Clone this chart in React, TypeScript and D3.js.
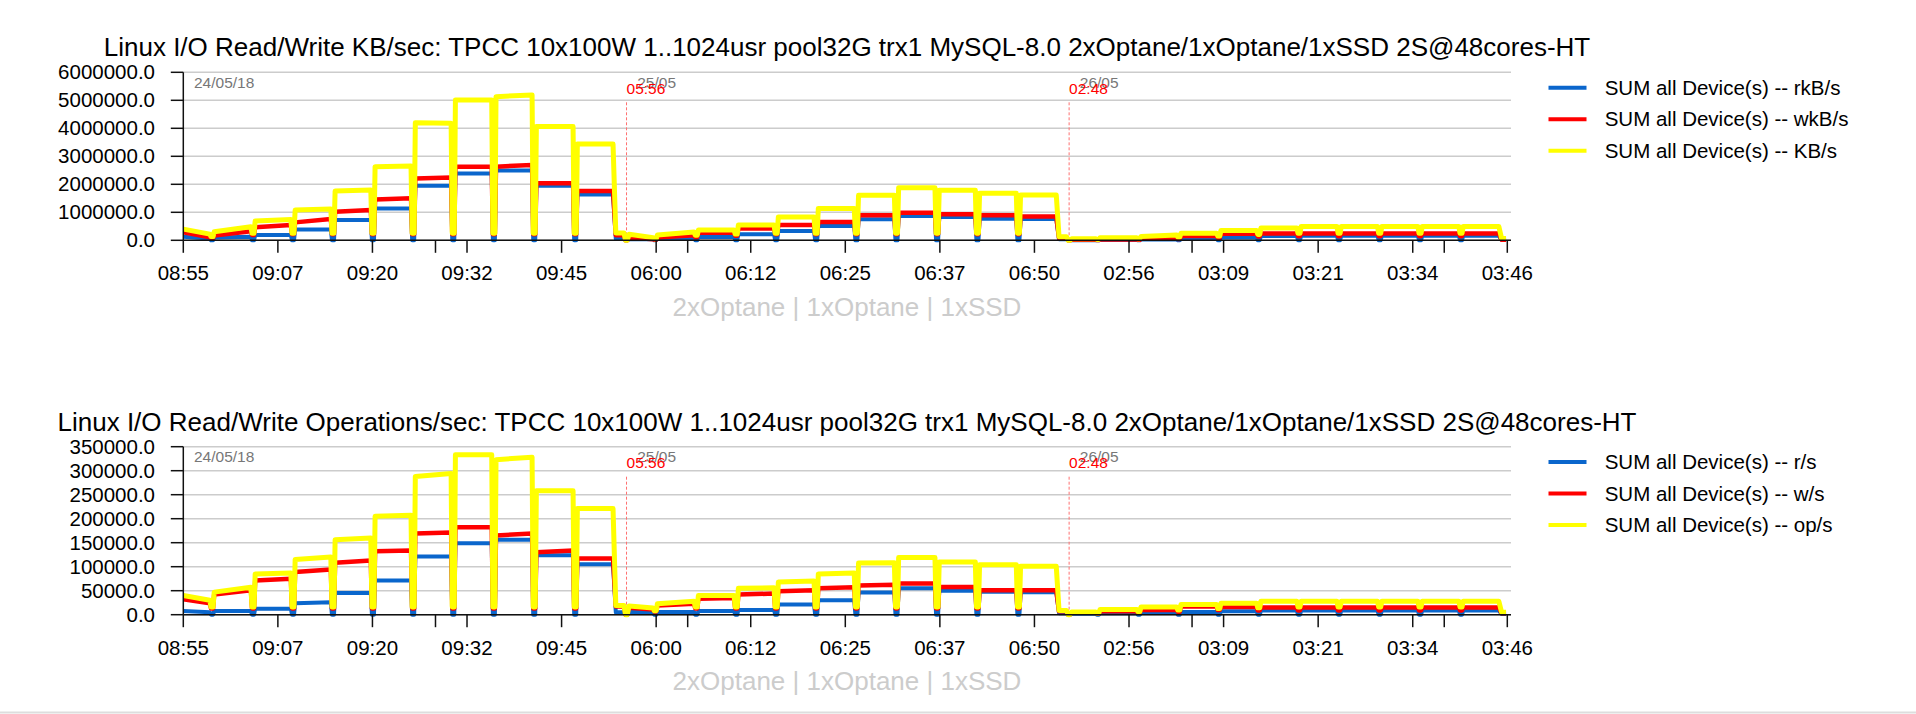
"use client"

import { useEffect, useRef } from 'react'
import * as d3 from 'd3'

type Level = number | [number, number]

// x axis is a sample index across the three concatenated runs
const xTickLabels = ["08:55", "09:07", "09:20", "09:32", "09:45", "06:00", "06:12", "06:25", "06:37", "06:50", "02:56", "03:09", "03:21", "03:34", "03:46"]
const xTickStep = 75
const xMinorTicks = [200, 400, 800, 1000]
const xMax = 1050

// each run: 11 user levels (1..1024), edges relative to run start
const runStarts = [0, 351.5, 702.5]
const runEnds = [351.5, 702.5, 1051]
const stepEdges = [0, 22.5, 55, 86.7, 118.4, 150.1, 182, 213.8, 246, 278, 310.5, 342.2]

const dayMarks = [
  { idx: 0, day: "24/05/18", time: "" },
  { idx: 351.5, day: "25/05", time: "05:56" },
  { idx: 702.5, day: "26/05", time: "02:48" },
]

const subtitle = "2xOptane | 1xOptane | 1xSSD"

// KB/sec chart (33 levels = 3 runs x 11 steps, [start, end] where it drifts)
const kbRead: Level[] = [
  [129000, 60000], [100000, 130000], 190000, 390000, 725000, 1140000, 1950000, 2390000, 2490000, 1950000, 1640000,
  36000, 70000, 119000, 214000, 333000, 512000, 750000, 869000, 833000, 774000, 757000,
  5000, 15000, 30000, 55000, 100000, 150000, 160000, 160000, 160000, 160000, 160000,
]
const kbWrite: Level[] = [
  [290000, 110000], [170000, 320000], [464000, 546000], [640000, 760000], [1020000, 1080000], [1460000, 1500000], [2210000, 2240000], 2630000, [2630000, 2690000], 2040000, 1760000,
  [96000, 36000], [96000, 179000], 274000, 417000, 548000, 655000, 893000, 988000, 930000, 893000, 850000,
  18000, 30000, 70000, 150000, 230000, 245000, 245000, 245000, 245000, 245000, 245000,
]
const kbTotal: Level[] = [
  [400000, 220000], [307000, 486000], [690000, 740000], [1080000, 1120000], [1760000, 1800000], [2630000, 2650000], [4200000, 4180000], 5010000, [5130000, 5190000], 4060000, 3440000,
  [214000, 96000], [190000, 297000], 368000, 548000, 833000, 1140000, 1610000, 1880000, 1790000, 1680000, 1620000,
  54000, 90000, [140000, 190000], 255000, 350000, 435000, 493000, 493000, 493000, 493000, 493000,
]
const kbReadTails = [50000, 40000, 10000]
const kbWriteTails = [180000, 80000, 20000]
const kbTotalTails = [260000, 130000, 60000]

// Operations/sec chart
const opsRead: Level[] = [
  [7500, 5000], 7500, 12500, [24000, 26000], 45000, 71000, 121000, 149000, 156000, 124000, 105000,
  5400, 5400, 7600, 10000, 21000, 30000, 46000, 55000, 50000, 48000, 47000,
  2000, 3000, 4000, 5500, 7000, 8500, 8500, 8500, 8500, 8500, 8500,
]
const opsWrite: Level[] = [
  [32000, 24000], [42000, 51000], [71000, 75000], [89000, 94000], [108000, 113000], [132000, 134000], [169000, 171000], 182000, [165000, 169000], [130000, 134000], 117000,
  [14600, 11000], [19000, 23000], [33000, 35000], [42000, 44000], [49000, 51000], [55000, 57000], [61000, 62500], 65000, 57500, 51000, 51000,
  4000, 7000, 10000, 17000, 16000, 15000, 15000, 15000, 15000, 15000, 15000,
]
const opsTotal: Level[] = [
  [40000, 30000], [47000, 57000], [85000, 87000], [115000, 120000], [156000, 160000], [205000, 207000], [288000, 294000], 333000, [323000, 328000], 258000, 221000,
  [18000, 14000], [23000, 28000], 40000, [55000, 56000], [68000, 70000], [85000, 87000], [107500, 108000], 119000, 110000, 104000, 101000,
  5500, 11000, 16000, 21500, 24000, 28000, 28000, 28000, 28000, 28000, 28000,
]
const opsReadTails = [5000, 3000, 1500]
const opsWriteTails = [17000, 7000, 3000]
const opsTotalTails = [19000, 9000, 5000]

const BLUE = "#0a66cc"
const RED = "#ff0000"
const YELLOW = "#ffff00"
const FONT = "'Liberation Sans', Arial, Helvetica, sans-serif"

interface SeriesDef {
  label: string
  color: string
  levels: Level[]
  tails: number[]
  dip: number
  width: number
}

interface ChartDef {
  title: string
  top: number
  yMax: number
  yStep: number
  series: SeriesDef[]
}

const charts: ChartDef[] = [
  {
    title: "Linux I/O Read/Write KB/sec: TPCC 10x100W 1..1024usr pool32G trx1 MySQL-8.0 2xOptane/1xOptane/1xSSD 2S@48cores-HT",
    top: 72.3,
    yMax: 6000000,
    yStep: 1000000,
    series: [
      { label: "SUM all Device(s) -- rkB/s", color: BLUE, levels: kbRead, tails: kbReadTails, dip: 0, width: 4 },
      { label: "SUM all Device(s) -- wkB/s", color: RED, levels: kbWrite, tails: kbWriteTails, dip: 220000, width: 4.5 },
      { label: "SUM all Device(s) -- KB/s", color: YELLOW, levels: kbTotal, tails: kbTotalTails, dip: 250000, width: 5 },
    ],
  },
  {
    title: "Linux I/O Read/Write Operations/sec: TPCC 10x100W 1..1024usr pool32G trx1 MySQL-8.0 2xOptane/1xOptane/1xSSD 2S@48cores-HT",
    top: 446.7,
    yMax: 350000,
    yStep: 50000,
    series: [
      { label: "SUM all Device(s) -- r/s", color: BLUE, levels: opsRead, tails: opsReadTails, dip: 0, width: 4 },
      { label: "SUM all Device(s) -- w/s", color: RED, levels: opsWrite, tails: opsWriteTails, dip: 13000, width: 4.5 },
      { label: "SUM all Device(s) -- op/s", color: YELLOW, levels: opsTotal, tails: opsTotalTails, dip: 16000, width: 5 },
    ],
  },
]

// turn step levels into a line: flat steps with a short dip between user levels
function buildPoints(levels: Level[], tails: number[], dip: number): [number, number][] {
  const pts: [number, number][] = []
  runStarts.forEach((r0, ri) => {
    const lv = levels.slice(ri * 11, ri * 11 + 11).map(l => (Array.isArray(l) ? l : [l, l]))
    if (ri > 0) {
      pts.push([r0 - 0.8, 0], [r0 + 0.6, 0])
    }
    lv.forEach(([s, e], k) => {
      const a = r0 + stepEdges[k]
      const b = r0 + stepEdges[k + 1]
      pts.push([k === 0 && ri === 0 ? a : a + 2, s], [b - 1.4, e])
      if (k < lv.length - 1) {
        const d = Math.min(dip, e * 0.6, lv[k + 1][0] * 0.6)
        pts.push([b - 0.5, d], [b + 1.1, d])
      }
    })
    const end = r0 + stepEdges[stepEdges.length - 1]
    pts.push([end + 0.8, tails[ri]], [runEnds[ri] - 2, tails[ri]])
  })
  return pts
}

export default function App() {
  const svgRef = useRef<SVGSVGElement>(null)

  useEffect(() => {
    if (!svgRef.current) return
    document.body.style.margin = "0"
    document.body.style.overflow = "hidden"

    const width = 1916
    const height = 714
    const plotHeight = 168
    const left = 183.3
    const right = 1507.3
    const gridRight = 1511
    const centerX = 847

    const root = d3.select(svgRef.current)
    root.selectAll("*").remove()
    root.attr("width", width).attr("height", height)
      .style("font-family", FONT)

    const x = d3.scaleLinear().domain([0, xMax]).range([left, right])

    charts.forEach(chart => {
      const top = chart.top
      const bottom = top + plotHeight
      const y = d3.scaleLinear().domain([0, chart.yMax]).range([bottom, top])
      const g = root.append("g")

      // Title
      g.append("text")
        .attr("x", centerX)
        .attr("y", top - 25.3)
        .attr("dy", "0.35em")
        .attr("text-anchor", "middle")
        .attr("font-size", 26)
        .attr("fill", "#000")
        .text(chart.title)

      // Grid lines
      const yTicks = d3.range(0, chart.yMax + chart.yStep / 2, chart.yStep)
      g.selectAll("line.grid")
        .data(yTicks)
        .join("line")
        .attr("class", "grid")
        .attr("x1", left)
        .attr("x2", gridRight)
        .attr("y1", d => y(d))
        .attr("y2", d => y(d))
        .attr("stroke", "#cccccc")
        .attr("stroke-width", 1.5)

      // Run boundaries
      dayMarks.filter(m => m.time).forEach(m => {
        g.append("line")
          .attr("x1", x(m.idx))
          .attr("x2", x(m.idx))
          .attr("y1", top + 30)
          .attr("y2", bottom)
          .attr("stroke", "#ff7070")
          .attr("stroke-width", 1)
          .attr("stroke-dasharray", "3,2")
      })

      dayMarks.forEach(m => {
        g.append("text")
          .attr("x", x(m.idx) + 10.7)
          .attr("y", top + 9.8)
          .attr("dy", "0.35em")
          .attr("font-size", 15.5)
          .attr("fill", "#777")
          .text(m.day)
        if (m.time) {
          g.append("text")
            .attr("x", x(m.idx))
            .attr("y", top + 16)
            .attr("dy", "0.35em")
            .attr("font-size", 15.5)
            .attr("fill", "#ff0000")
            .text(m.time)
        }
      })

      // Series lines
      const line = d3.line<[number, number]>()
        .x(d => x(d[0]))
        .y(d => y(d[1]))

      chart.series.forEach(s => {
        g.append("path")
          .datum(buildPoints(s.levels, s.tails, s.dip))
          .attr("fill", "none")
          .attr("stroke", s.color)
          .attr("stroke-width", s.width)
          .attr("stroke-linejoin", "round")
          .attr("d", line)
      })

      // Axes
      g.append("line")
        .attr("x1", left).attr("x2", left)
        .attr("y1", top).attr("y2", bottom)
        .attr("stroke", "#111").attr("stroke-width", 1.5)
      g.append("line")
        .attr("x1", left).attr("x2", gridRight)
        .attr("y1", bottom).attr("y2", bottom)
        .attr("stroke", "#111").attr("stroke-width", 1.5)

      g.selectAll("line.ytick")
        .data(yTicks)
        .join("line")
        .attr("class", "ytick")
        .attr("x1", left - 12.5)
        .attr("x2", left)
        .attr("y1", d => y(d))
        .attr("y2", d => y(d))
        .attr("stroke", "#111")
        .attr("stroke-width", 1.5)

      const fmt = d3.format(".1f")
      g.selectAll("text.ylabel")
        .data(yTicks)
        .join("text")
        .attr("class", "ylabel")
        .attr("x", 155)
        .attr("y", d => y(d))
        .attr("dy", "0.35em")
        .attr("text-anchor", "end")
        .attr("font-size", 20.5)
        .attr("fill", "#000")
        .text(d => fmt(d))

      const xTicks = xTickLabels.map((label, i) => ({ idx: i * xTickStep, label }))
      g.selectAll("line.xtick")
        .data([...xTicks.map(t => t.idx), ...xMinorTicks])
        .join("line")
        .attr("class", "xtick")
        .attr("x1", d => x(d))
        .attr("x2", d => x(d))
        .attr("y1", bottom)
        .attr("y2", bottom + 12.5)
        .attr("stroke", "#111")
        .attr("stroke-width", 1.5)

      g.selectAll("text.xlabel")
        .data(xTicks)
        .join("text")
        .attr("class", "xlabel")
        .attr("x", d => x(d.idx))
        .attr("y", bottom + 33)
        .attr("dy", "0.35em")
        .attr("text-anchor", "middle")
        .attr("font-size", 20.5)
        .attr("fill", "#000")
        .text(d => d.label)

      // Subtitle
      g.append("text")
        .attr("x", centerX)
        .attr("y", bottom + 66.5)
        .attr("dy", "0.35em")
        .attr("text-anchor", "middle")
        .attr("font-size", 26)
        .attr("fill", "#cccccc")
        .text(subtitle)

      // Legend
      chart.series.forEach((s, i) => {
        const ly = top + 15.4 + i * 31.5
        g.append("line")
          .attr("x1", 1548.5).attr("x2", 1586.5)
          .attr("y1", ly).attr("y2", ly)
          .attr("stroke", s.color)
          .attr("stroke-width", 4)
        g.append("text")
          .attr("x", 1604.7)
          .attr("y", ly)
          .attr("dy", "0.35em")
          .attr("font-size", 20.5)
          .attr("fill", "#000")
          .text(s.label)
      })
    })

    // page separator at the bottom
    root.append("line")
      .attr("x1", 0).attr("x2", width)
      .attr("y1", 712.5).attr("y2", 712.5)
      .attr("stroke", "#dddddd")
      .attr("stroke-width", 2)
  }, [])

  return (
    <div style={{ position: "absolute", left: 0, top: 0 }}>
      <svg ref={svgRef} />
    </div>
  )
}
